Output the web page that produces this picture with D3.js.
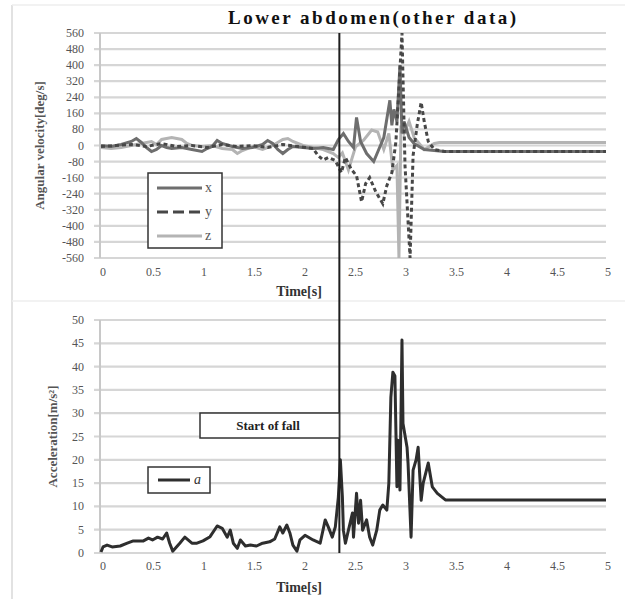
<!DOCTYPE html>
<html>
<head>
<meta charset="UTF-8">
<title>Lower abdomen</title>
<style>
  body { margin: 0; background: #fff; }
</style>
</head>
<body>
<svg id="chart" width="625" height="599" font-family="'Liberation Serif', 'DejaVu Serif', serif"></svg>
<script src="https://d3js.org/d3.v7.min.js"></script>
<script>
// ---- data ----
const title = 'Lower abdomen(other data)';
const timeTicks = [0, 0.5, 1, 1.5, 2, 2.5, 3, 3.5, 4, 4.5, 5];
const velTicks = d3.range(-560, 561, 80);
const accTicks = d3.range(0, 51, 5);
const fallTime = 2.36;

// angular velocity [deg/s], [time, value]
const gyroX = [[0,0],[0.1,-5],[0.2,5],[0.3,20],[0.35,35],[0.4,15],[0.45,-10],[0.5,-30],[0.55,-20],[0.6,0],[0.65,-10],
  [0.7,-15],[0.8,-10],[0.9,-20],[1.0,-30],[1.05,-15],[1.1,-5],[1.15,25],[1.2,10],[1.3,-5],[1.4,-15],[1.5,-10],[1.6,5],
  [1.65,25],[1.7,10],[1.75,-20],[1.8,-40],[1.85,-20],[1.9,-5],[2.0,-10],[2.1,-15],[2.2,-10],[2.3,-20],[2.35,30],[2.4,60],
  [2.45,20],[2.5,-10],[2.53,140],[2.57,20],[2.63,-40],[2.7,-80],[2.75,-20],[2.8,40],[2.86,225],[2.88,100],[2.9,180],
  [2.93,120],[2.96,400],[2.98,60],[3.0,120],[3.05,40],[3.1,10],[3.2,-20],[3.3,-25],[3.4,-30],[5,-30]];
const gyroY = [[0,-5],[0.15,0],[0.3,5],[0.45,-5],[0.6,10],[0.75,-5],[0.9,0],[1.05,-10],[1.2,5],[1.35,-5],[1.5,0],
  [1.65,-10],[1.8,5],[1.95,-5],[2.1,-15],[2.15,-50],[2.2,-72],[2.25,-60],[2.32,-75],[2.38,-135],[2.42,-60],[2.48,-120],
  [2.53,-150],[2.58,-280],[2.62,-190],[2.66,-160],[2.72,-230],[2.79,-290],[2.83,-200],[2.88,-135],[2.92,20],[2.98,560],
  [3.01,-100],[3.06,-560],[3.09,-50],[3.13,100],[3.17,215],[3.2,120],[3.24,20],[3.3,-20],[3.4,-30],[5,-30]];
const gyroZ = [[0,-10],[0.1,-15],[0.2,-10],[0.3,0],[0.4,10],[0.5,20],[0.55,5],[0.6,30],[0.7,40],[0.8,30],[0.85,10],
  [0.9,0],[1.0,-5],[1.1,0],[1.2,-15],[1.3,-20],[1.35,-40],[1.4,-25],[1.5,-5],[1.6,-20],[1.7,0],[1.8,30],[1.85,35],
  [1.9,20],[2.0,0],[2.1,-10],[2.2,-20],[2.3,-40],[2.35,-60],[2.39,-37],[2.45,-122],[2.52,-7],[2.6,27],[2.68,77],
  [2.74,67],[2.8,-20],[2.85,60],[2.89,-122],[2.93,-100],[2.95,-560],[2.97,100],[3.0,60],[3.05,120],[3.1,40],[3.2,-20],
  [3.3,10],[3.35,15],[5,15]];

// acceleration [m/s^2], [time, value]
const accA = [[0,0.2],[0.02,1.3],[0.06,1.7],[0.11,1.3],[0.19,1.5],[0.26,2.1],[0.32,2.6],[0.42,2.6],[0.47,3.2],[0.51,2.8],
  [0.56,3.4],[0.61,3.0],[0.65,4.3],[0.68,2.1],[0.71,0.4],[0.78,2.1],[0.83,3.4],[0.9,2.1],[0.95,2.1],[1.01,2.6],[1.08,3.5],
  [1.15,5.8],[1.2,5.3],[1.25,3.4],[1.28,4.9],[1.31,2.1],[1.35,1.0],[1.38,2.8],[1.43,1.5],[1.48,1.7],[1.54,1.5],[1.6,2.1],
  [1.67,2.4],[1.72,3.0],[1.77,5.6],[1.8,4.3],[1.84,6.0],[1.87,4.3],[1.9,1.7],[1.94,0.4],[1.97,2.8],[2.02,3.8],[2.1,2.8],
  [2.17,2.1],[2.22,7.1],[2.25,5.6],[2.29,3.4],[2.32,5.6],[2.35,12],[2.37,20],[2.39,12],[2.4,4.9],[2.42,2.1],[2.45,4.9],
  [2.49,8.6],[2.5,3.4],[2.53,12.8],[2.55,6.4],[2.57,11.3],[2.59,4.9],[2.63,7.1],[2.66,3.4],[2.69,1.7],[2.73,4.9],
  [2.76,9.2],[2.79,10.3],[2.83,9.2],[2.85,15],[2.87,33.4],[2.89,38.8],[2.91,38],[2.93,14.2],[2.94,24.2],[2.96,13.5],
  [2.98,45.7],[2.99,27.8],[3.03,22.7],[3.04,19.3],[3.07,3.4],[3.09,17.8],[3.12,20],[3.14,22.7],[3.17,11.3],[3.19,15],
  [3.24,19.3],[3.28,14.2],[3.33,12.8],[3.41,11.4],[5,11.4]];

// ---- drawing ----
const svg = d3.select('#chart');
const x = d3.scaleLinear().domain([0, 5]).range([101, 606]);
const yTop = d3.scaleLinear().domain([-560, 560]).range([258, 33]);
const yBot = d3.scaleLinear().domain([0, 50]).range([553, 320]);

// frame
svg.append('line').attr('x1', 12).attr('x2', 12).attr('y1', 5).attr('y2', 599).attr('stroke', '#d8d8d8').attr('stroke-width', 1.5);
svg.append('line').attr('x1', 12).attr('x2', 625).attr('y1', 5).attr('y2', 5).attr('stroke', '#eee').attr('stroke-width', 1.5);
svg.append('line').attr('x1', 12).attr('x2', 625).attr('y1', 301).attr('y2', 301).attr('stroke', '#eee').attr('stroke-width', 1.5);

function panel(y, ticks, xLabelY, titleY, yLabel, yLabelX) {
  const g = svg.append('g');
  g.selectAll('.grid').data(ticks).join('line')
    .attr('x1', 94).attr('x2', 606)
    .attr('y1', d => y(d)).attr('y2', d => y(d))
    .attr('stroke', '#d6d6d6').attr('stroke-width', 2.2);
  g.append('line').attr('x1', 100).attr('x2', 100)
    .attr('y1', y.range()[1]).attr('y2', y.range()[0])
    .attr('stroke', '#c8c8c8').attr('stroke-width', 2);
  g.selectAll('.yl').data(ticks).join('text')
    .attr('x', 84).attr('y', d => y(d) + 4)
    .attr('text-anchor', 'end').attr('font-size', 12).attr('fill', '#555')
    .text(d => d);
  g.selectAll('.xl').data(timeTicks).join('text')
    .attr('x', d => x(d) + 2).attr('y', xLabelY)
    .attr('text-anchor', 'middle').attr('font-size', 12).attr('fill', '#555')
    .text(d => d);
  g.append('text').attr('x', 299).attr('y', titleY)
    .attr('text-anchor', 'middle').attr('font-size', 14).attr('font-weight', 'bold').attr('fill', '#333')
    .text('Time[s]');
  const mid = (y.range()[0] + y.range()[1]) / 2;
  g.append('text').attr('transform', `translate(${yLabelX},${mid}) rotate(-90)`)
    .attr('text-anchor', 'middle').attr('font-size', 13).attr('font-weight', 'bold').attr('fill', '#555')
    .text(yLabel);
}
panel(yTop, velTicks, 276, 296, 'Angular velocity[deg/s]', 44);
panel(yBot, accTicks, 570, 592, 'Acceleration[m/s²]', 57);

// title
svg.append('text').attr('x', 372).attr('y', 24).attr('text-anchor', 'middle')
  .attr('font-size', 19).attr('font-weight', 'bold').attr('fill', '#111')
  .attr('textLength', 288).attr('lengthAdjust', 'spacing')
  .text(title);

const lineTop = d3.line().x(d => x(d[0])).y(d => yTop(d[1]));
const lineBot = d3.line().x(d => x(d[0])).y(d => yBot(d[1]));

svg.append('path').datum(gyroZ).attr('d', lineTop).attr('fill', 'none').attr('stroke', '#b4b4b4').attr('stroke-width', 3);
svg.append('path').datum(gyroX).attr('d', lineTop).attr('fill', 'none').attr('stroke', '#6e6e6e').attr('stroke-width', 3);
svg.append('path').datum(gyroY).attr('d', lineTop).attr('fill', 'none').attr('stroke', '#474747').attr('stroke-width', 3).attr('stroke-dasharray', '4,3');
svg.append('path').datum(accA).attr('d', lineBot).attr('fill', 'none').attr('stroke', '#2e2e2e').attr('stroke-width', 3).attr('stroke-linejoin', 'round');

// start of fall marker
svg.append('line').attr('x1', x(fallTime)).attr('x2', x(fallTime)).attr('y1', 33).attr('y2', 553)
  .attr('stroke', '#1e1e1e').attr('stroke-width', 2);
svg.append('rect').attr('x', 200).attr('y', 413).attr('width', x(fallTime) - 200).attr('height', 25)
  .attr('fill', '#fff').attr('stroke', '#333').attr('stroke-width', 1.5);
svg.append('text').attr('x', 268).attr('y', 430).attr('text-anchor', 'middle')
  .attr('font-size', 13).attr('font-weight', 'bold').attr('fill', '#222').text('Start of fall');

// legends
const legTop = svg.append('g');
legTop.append('rect').attr('x', 148).attr('y', 173).attr('width', 74).attr('height', 75)
  .attr('fill', '#fff').attr('stroke', '#333').attr('stroke-width', 1.5);
const legItems = [
  {name: 'x', color: '#6e6e6e', dash: null, y: 188},
  {name: 'y', color: '#474747', dash: '11,5', y: 212},
  {name: 'z', color: '#b4b4b4', dash: null, y: 236}
];
legItems.forEach(d => {
  legTop.append('line').attr('x1', 157).attr('x2', 202).attr('y1', d.y).attr('y2', d.y)
    .attr('stroke', d.color).attr('stroke-width', 3).attr('stroke-dasharray', d.dash);
  legTop.append('text').attr('x', 205).attr('y', d.y + 4).attr('font-size', 14).attr('fill', '#555').text(d.name);
});
const legBot = svg.append('g');
legBot.append('rect').attr('x', 148).attr('y', 467).attr('width', 62).attr('height', 26)
  .attr('fill', '#fff').attr('stroke', '#333').attr('stroke-width', 1.5);
legBot.append('line').attr('x1', 158).attr('x2', 190).attr('y1', 480).attr('y2', 480)
  .attr('stroke', '#2e2e2e').attr('stroke-width', 3);
legBot.append('text').attr('x', 194).attr('y', 484).attr('font-size', 14).attr('font-style', 'italic').attr('fill', '#333').text('a');
</script>
</body>
</html>
